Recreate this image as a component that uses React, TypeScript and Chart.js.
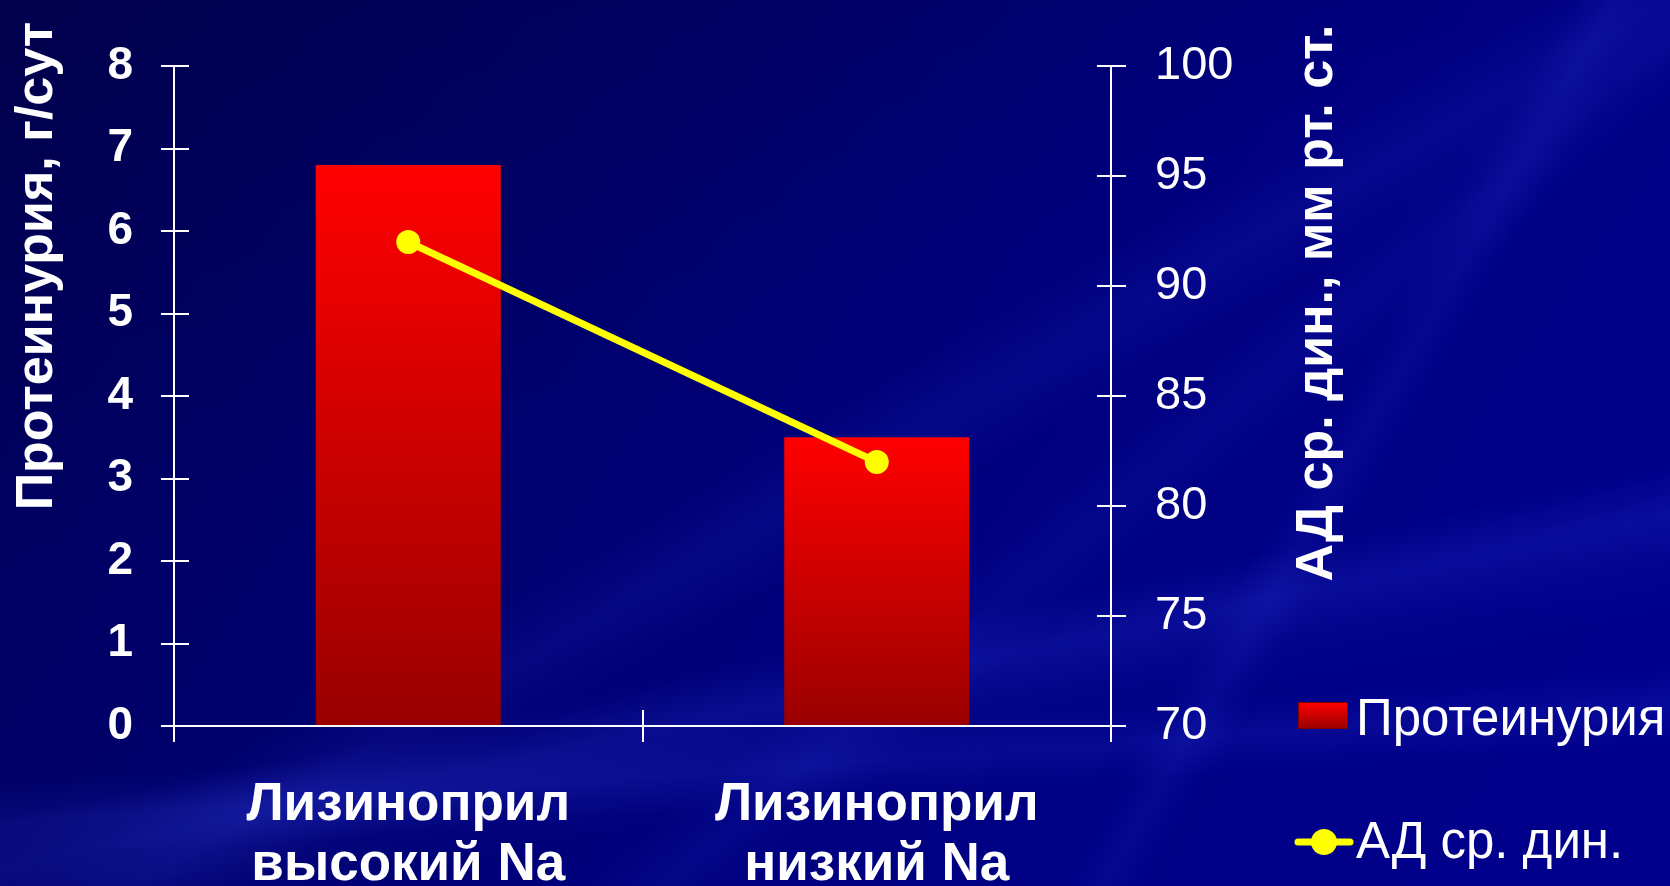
import React, { useEffect, useRef } from "react";
import { Chart, registerables } from "chart.js";

Chart.register(...registerables);

const categories: string[][] = [
  ["Лизиноприл", "высокий Na"],
  ["Лизиноприл", "низкий Na"],
];
const proteinuria: number[] = [6.8, 3.5];
const bloodPressure: number[] = [92, 82];
const leftTitle = "Протеинурия, г/сут";
const rightTitle = "АД ср. дин., мм рт. ст.";
const barLabel = "Протеинурия";
const lineLabel = "АД ср. дин.";

const NARROW = '"Liberation Sans Narrow", "Liberation Sans", Arial, sans-serif';
const SANS = '"Liberation Sans", Arial, sans-serif';

const barGradient = (ctx: any) => {
  const chart = ctx.chart;
  if (!chart.chartArea || ctx.parsed == null) return "#e00000";
  const y = chart.scales.y;
  const top = y.getPixelForValue(ctx.parsed.y);
  const bottom = y.getPixelForValue(0);
  const g = chart.ctx.createLinearGradient(0, top, 0, bottom);
  g.addColorStop(0, "#ff0000");
  g.addColorStop(1, "#990000");
  return g;
};

const decorPlugin = {
  id: "decor",
  afterDraw(chart: any) {
    const c = chart.ctx;
    const area = chart.chartArea;
    const yL = chart.scales.y;
    const yR = chart.scales.y1;
    const x = chart.scales.x;
    c.save();
    c.strokeStyle = "#ffffff";
    c.lineWidth = 2;
    // inner halves of crossing ticks
    c.beginPath();
    yL.ticks.forEach((_t: any, i: number) => {
      const p = Math.round(yL.getPixelForTick(i));
      c.moveTo(area.left, p);
      c.lineTo(area.left + 15, p);
    });
    yR.ticks.forEach((_t: any, i: number) => {
      const p = Math.round(yR.getPixelForTick(i));
      c.moveTo(area.right, p);
      c.lineTo(area.right - 14, p);
    });
    const mid = (x.getPixelForValue(0) + x.getPixelForValue(1)) / 2;
    c.moveTo(Math.round(mid), area.bottom);
    c.lineTo(Math.round(mid), area.bottom - 16);
    c.stroke();

    // axis titles
    c.fillStyle = "#ffffff";
    c.font = `bold 52px ${SANS}`;
    c.textAlign = "center";
    c.textBaseline = "middle";
    c.save();
    c.translate(38, 266);
    c.rotate(-Math.PI / 2);
    c.fillText(leftTitle, 0, 0);
    c.restore();
    c.save();
    c.translate(1318, 303);
    c.rotate(-Math.PI / 2);
    c.fillText(rightTitle, 0, 0);
    c.restore();

    // legend
    const bx = 1298, by = 702, bw = 50, bh = 27;
    const g = c.createLinearGradient(0, by, 0, by + bh);
    g.addColorStop(0, "#ff0000");
    g.addColorStop(1, "#990000");
    c.fillStyle = g;
    c.fillRect(bx, by, bw, bh);
    c.strokeStyle = "#800000";
    c.lineWidth = 1;
    c.strokeRect(bx + 0.5, by + 0.5, bw - 1, bh - 1);
    c.fillStyle = "#ffffff";
    c.font = `51px ${SANS}`;
    c.textAlign = "left";
    c.textBaseline = "middle";
    c.fillText(barLabel, 1356, 721);

    const ly = 842;
    c.strokeStyle = "#ffff00";
    c.lineWidth = 7;
    c.lineCap = "round";
    c.beginPath();
    c.moveTo(1298, ly);
    c.lineTo(1350, ly);
    c.stroke();
    c.fillStyle = "#ffff00";
    c.beginPath();
    c.arc(1324, ly, 13, 0, Math.PI * 2);
    c.fill();
    c.fillStyle = "#ffffff";
    c.fillText(lineLabel, 1356, ly + 2);
    c.restore();
  },
};

export default function App() {
  const ref = useRef<HTMLCanvasElement>(null);
  useEffect(() => {
    if (!ref.current) return;
    const chart = new Chart(ref.current, {
      type: "bar",
      data: {
        labels: categories,
        datasets: [
          {
            type: "line",
            label: lineLabel,
            data: bloodPressure,
            yAxisID: "y1",
            borderColor: "#ffff00",
            backgroundColor: "#ffff00",
            borderWidth: 7,
            pointRadius: 12,
            pointBorderWidth: 0,
            pointBackgroundColor: "#ffff00",
            order: 0,
          } as any,
          {
            type: "bar",
            label: barLabel,
            data: proteinuria,
            yAxisID: "y",
            backgroundColor: barGradient,
            borderWidth: 0,
            barPercentage: 0.395,
            categoryPercentage: 1,
            order: 1,
          } as any,
        ],
      },
      options: {
        responsive: false,
        animation: false,
        layout: { padding: { left: 0, right: 0, top: 66, bottom: 0 } },
        plugins: {
          legend: { display: false },
          tooltip: { enabled: false },
        },
        scales: {
          x: {
            offset: true,
            grid: {
              offset: true,
              drawOnChartArea: false,
              drawTicks: true,
              tickLength: 16,
              color: "#ffffff",
              lineWidth: 2,
            },
            border: { color: "#ffffff", width: 2 },
            ticks: {
              color: "#ffffff",
              font: { family: NARROW, size: 53, weight: "bold", lineHeight: 1.12 },
              padding: 34,
              maxRotation: 0,
              autoSkip: false,
            },
            afterFit: (s: any) => {
              s.height = 160;
            },
          },
          y: {
            position: "left",
            min: 0,
            max: 8,
            ticks: {
              stepSize: 1,
              color: "#ffffff",
              font: { family: NARROW, size: 46, weight: "bold" },
              padding: 28,
            },
            grid: {
              drawOnChartArea: false,
              tickLength: 13,
              color: "#ffffff",
              lineWidth: 2,
            },
            border: { color: "#ffffff", width: 2 },
            afterFit: (s: any) => {
              s.width = 174;
            },
          },
          y1: {
            position: "right",
            min: 70,
            max: 100,
            ticks: {
              stepSize: 5,
              color: "#ffffff",
              font: { family: NARROW, size: 47 },
              padding: 29,
            },
            grid: {
              drawOnChartArea: false,
              tickLength: 15,
              color: "#ffffff",
              lineWidth: 2,
            },
            border: { color: "#ffffff", width: 2 },
            afterFit: (s: any) => {
              s.width = 559;
            },
          },
        },
      },
      plugins: [decorPlugin],
    });
    return () => chart.destroy();
  }, []);

  const bg = [
    "linear-gradient(168deg, rgba(60,80,255,0) 66%, rgba(60,80,255,0.16) 70%, rgba(60,80,255,0.05) 74%, rgba(60,80,255,0) 78%)",
    "linear-gradient(176deg, rgba(60,80,255,0) 78%, rgba(60,80,255,0.12) 82%, rgba(60,80,255,0) 86%)",
    "linear-gradient(150deg, rgba(60,80,255,0) 48%, rgba(60,80,255,0.10) 52%, rgba(60,80,255,0) 56%)",
    "linear-gradient(140deg, rgba(60,80,255,0) 60%, rgba(60,80,255,0.09) 63%, rgba(60,80,255,0) 66%)",
    "linear-gradient(120deg, rgba(60,80,255,0) 72%, rgba(60,80,255,0.10) 74%, rgba(60,80,255,0) 76%)",
    "linear-gradient(160deg, rgba(0,0,40,0.25) 0%, rgba(0,0,40,0) 40%)",
    "linear-gradient(125deg, #000058 0%, #00006e 35%, #000080 60%, #00008e 100%)",
  ].join(", ");

  return (
    <div
      style={{
        position: "fixed",
        left: 0,
        top: 0,
        width: 1670,
        height: 886,
        background: bg,
        overflow: "hidden",
      }}
    >
      <canvas ref={ref} width={1670} height={886} style={{ display: "block" }} />
    </div>
  );
}
